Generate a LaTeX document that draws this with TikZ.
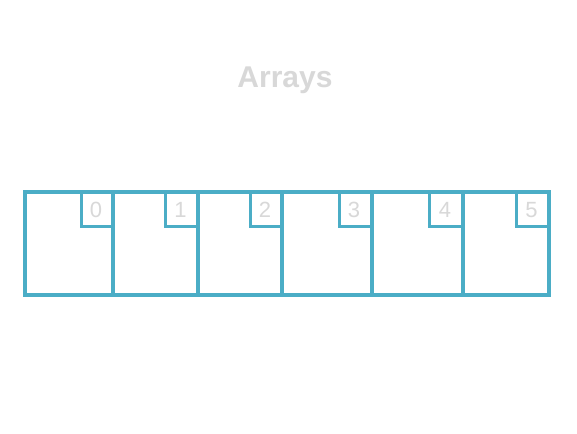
\documentclass[tikz,border=0pt]{standalone}
\usepackage{fontspec}
\setmainfont{Liberation Sans}
\definecolor{frame}{HTML}{4BADC6}
\definecolor{ghost}{HTML}{D8D8D8}
\begin{document}
\begin{tikzpicture}[x=1pt,y=-1pt,
  cellbox/.style={draw=frame,line width=4pt,line join=miter},
  idxbox/.style={draw=frame,line width=3pt},
  idxtext/.style={text=ghost,font=\fontsize{22}{22}\selectfont,inner sep=0pt}]
\useasboundingbox[fill=white] (0,0) rectangle (577,433);
\node[text=ghost,font=\fontsize{30}{30}\selectfont\bfseries,inner sep=0pt] (title) at (285,80) {Arrays};
% index boxes
\draw[idxbox] (81,192) |- (113,226) coordinate (b0);
\draw[idxbox] (165,192) |- (198,226);
\draw[idxbox] (250.5,192) |- (282,226);
\draw[idxbox] (339,192) |- (372,226);
\draw[idxbox] (429,192) |- (463,226);
\draw[idxbox] (516,192) |- (549,226);
% cells
\draw[cellbox] (24.5,192) rectangle (113,295);
\draw[cellbox] (113,192) rectangle (198,295);
\draw[cellbox] (198,192) rectangle (282,295);
\draw[cellbox] (282,192) rectangle (372,295);
\draw[cellbox] (372,192) rectangle (463,295);
\draw[cellbox] (463,192) rectangle (549,295);
\node[idxtext] (i0) at (96,210) {0};
\node[idxtext] (i1) at (180.5,210) {1};
\node[idxtext] (i2) at (265,210) {2};
\node[idxtext] (i3) at (354,210) {3};
\node[idxtext] (i4) at (445,210) {4};
\node[idxtext] (i5) at (531.5,210) {5};
\end{tikzpicture}
\end{document}
